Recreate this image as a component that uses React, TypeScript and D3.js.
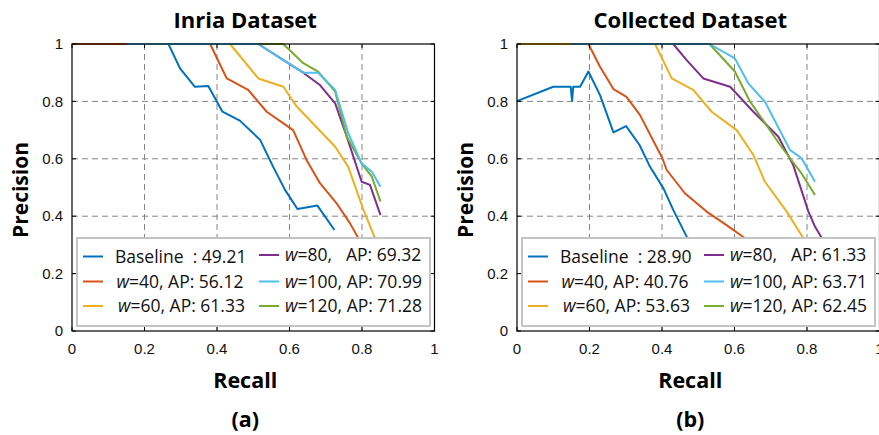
import React from 'react';
import * as d3 from 'd3';

// PR curves for two datasets, values as [recall, precision]
const ticks = [0, 0.2, 0.4, 0.6, 0.8, 1];
const tickLabels = ['0', '0.2', '0.4', '0.6', '0.8', '1'];
const seriesNames = ['Baseline', '40', '60', '80', '100', '120'];
const colors = ['#0072BD', '#D95319', '#EDB120', '#7E2F8E', '#4DBEEE', '#77AC30'];
// draw order: light blue is on top of green
const drawOrder = [0, 1, 2, 3, 5, 4];

const inriaBaseline = [[0.15, 1], [0.266, 1], [0.298, 0.915], [0.339, 0.851], [0.376, 0.854], [0.415, 0.764], [0.463, 0.733], [0.519, 0.666], [0.555, 0.572], [0.588, 0.491], [0.622, 0.425], [0.677, 0.437], [0.724, 0.352]];
const inriaW40 = [[0, 1], [0.381, 1], [0.427, 0.88], [0.486, 0.84], [0.537, 0.764], [0.61, 0.7], [0.647, 0.596], [0.684, 0.515], [0.73, 0.445], [0.767, 0.375], [0.79, 0.323], [0.82, 0.24]];
const inriaW60 = [[0.15, 1], [0.436, 1], [0.514, 0.88], [0.583, 0.851], [0.62, 0.782], [0.726, 0.642], [0.762, 0.572], [0.804, 0.422], [0.836, 0.323], [0.86, 0.26]];
const inriaW80 = [[0.15, 1], [0.514, 1], [0.592, 0.937], [0.638, 0.9], [0.684, 0.857], [0.726, 0.793], [0.758, 0.677], [0.799, 0.52], [0.822, 0.509], [0.851, 0.404]];
const inriaW100 = [[0.151, 1], [0.514, 1], [0.592, 0.937], [0.638, 0.9], [0.679, 0.9], [0.726, 0.84], [0.762, 0.689], [0.799, 0.584], [0.827, 0.555], [0.851, 0.503]];
const inriaW120 = [[0.51, 1], [0.583, 1], [0.638, 0.933], [0.679, 0.904], [0.726, 0.834], [0.758, 0.677], [0.799, 0.584], [0.827, 0.538], [0.851, 0.451]];
const inriaAP = ['49.21', '56.12', '61.33', '69.32', '70.99', '71.28'];

const collBaseline = [[0, 0.801], [0.1, 0.851], [0.148, 0.851], [0.152, 0.801], [0.155, 0.851], [0.174, 0.851], [0.197, 0.904], [0.229, 0.822], [0.266, 0.692], [0.301, 0.714], [0.338, 0.648], [0.367, 0.572], [0.404, 0.497], [0.431, 0.422], [0.468, 0.329], [0.5, 0.24]];
const collW40 = [[0.15, 1], [0.197, 1], [0.229, 0.921], [0.266, 0.843], [0.302, 0.816], [0.339, 0.753], [0.401, 0.602], [0.413, 0.561], [0.463, 0.48], [0.523, 0.416], [0.578, 0.369], [0.629, 0.323], [0.68, 0.26]];
const collW60 = [[0, 1], [0.381, 1], [0.427, 0.88], [0.486, 0.84], [0.537, 0.764], [0.606, 0.7], [0.652, 0.613], [0.684, 0.52], [0.744, 0.416], [0.79, 0.323], [0.82, 0.25]];
const collW80 = [[0.15, 1], [0.431, 1], [0.468, 0.944], [0.514, 0.88], [0.588, 0.851], [0.652, 0.764], [0.721, 0.677], [0.762, 0.578], [0.804, 0.416], [0.822, 0.364], [0.841, 0.323], [0.87, 0.25]];
const collW100 = [[0.151, 1], [0.531, 1], [0.601, 0.95], [0.638, 0.863], [0.684, 0.799], [0.753, 0.631], [0.785, 0.602], [0.822, 0.52]];
const collW120 = [[0.4, 1], [0.531, 1], [0.601, 0.904], [0.643, 0.799], [0.726, 0.648], [0.753, 0.602], [0.785, 0.549], [0.822, 0.474]];
const collAP = ['28.90', '40.76', '53.63', '61.33', '63.71', '62.45'];

const W = 879;
const H = 435;
const top = 44;
const bottom = 331;
const plotW = 362.5;

const labelFont = '"Open Sans", Lato, sans-serif';
const tickFont = '"Liberation Sans", Arial, sans-serif';

function Panel({ x0, title, tag, series, ap }: any) {
  const x = d3.scaleLinear().domain([0, 1]).range([x0, x0 + plotW]);
  const y = d3.scaleLinear().domain([0, 1]).range([bottom, top]);
  const line = d3
    .line<number[]>()
    .x((d) => x(d[0]))
    .y((d) => y(d[1]));
  const clipId = 'clip' + tag.replace(/\W/g, '');
  const cx = x(0.5) - 8;

  // legend box
  const lx = x0 + 5;
  const lw = plotW - 9.5;
  const ly = 238;
  const lh = bottom - 5 - ly;
  const rows = [256.5, 281.5, 306];
  const colX = [lx, lx + 176];

  return (
    <g>
      <defs>
        <clipPath id={clipId}>
          <rect x={x(0) - 2} y={top - 2} width={plotW + 4} height={bottom - top + 4} />
        </clipPath>
      </defs>
      {/* grid */}
      {ticks.slice(1, -1).map((t) => (
        <g key={'g' + t}>
          <line x1={x(t)} x2={x(t)} y1={top} y2={bottom} stroke="#858585" strokeDasharray="6,4" strokeWidth={1} />
          <line x1={x(0)} x2={x(1)} y1={y(t)} y2={y(t)} stroke="#858585" strokeDasharray="6,4" strokeWidth={1} />
        </g>
      ))}
      {/* curves */}
      <g clipPath={`url(#${clipId})`}>
        {drawOrder.map((i) => (
          <path key={i} d={line(series[i]) || ''} fill="none" stroke={colors[i]} strokeWidth={2} strokeLinejoin="round" />
        ))}
      </g>
      {/* axes box and ticks */}
      <rect x={x(0)} y={top} width={plotW} height={bottom - top} fill="none" stroke="#000" strokeWidth={1.2} />
      {ticks.map((t, i) => (
        <g key={'t' + t}>
          <line x1={x(t)} x2={x(t)} y1={bottom} y2={bottom - 4} stroke="#000" />
          <line x1={x(t)} x2={x(t)} y1={top} y2={top + 4} stroke="#000" />
          <line x1={x(0)} x2={x(0) + 4} y1={y(t)} y2={y(t)} stroke="#000" />
          <line x1={x(1)} x2={x(1) - 4} y1={y(t)} y2={y(t)} stroke="#000" />
          <text x={x(t)} y={bottom + 23} textAnchor="middle" fontFamily={tickFont} fontSize={15} fill="#111">
            {tickLabels[i]}
          </text>
          <text x={x(0) - 9} y={y(t)} dy="0.35em" textAnchor="end" fontFamily={tickFont} fontSize={15} fill="#111">
            {tickLabels[i]}
          </text>
        </g>
      ))}
      {/* legend */}
      <rect x={lx} y={ly} width={lw} height={lh} fill="#fff" stroke="#c4c4c4" strokeWidth={2} />
      {seriesNames.map((name, i) => {
        const col = i < 3 ? 0 : 1;
        const row = i % 3;
        const bx = colX[col];
        const ry = rows[row] - (i === 3 ? 1.5 : 0);
        const tx = col === 0 ? bx + 38 + (i === 0 ? 0 : row * 1.5) : bx + 32;
        return (
          <g key={'l' + i}>
            <line x1={bx + 6} x2={bx + 26} y1={ry} y2={ry} stroke={colors[i]} strokeWidth={2} />
            <text x={tx} y={ry} dy="0.35em" fontFamily={labelFont} fontSize={17.5} fill="#111" style={{ whiteSpace: 'pre' }}>
              {i === 0 ? (
                `Baseline  : ${ap[i]}`
              ) : (
                <>
                  <tspan fontStyle="italic">w</tspan>
                  {i === 3 ? (
                    <>
                      {`=${name},`}
                      <tspan x={tx + 61}>{`AP: ${ap[i]}`}</tspan>
                    </>
                  ) : (
                    `=${name}, AP: ${ap[i]}`
                  )}
                </>
              )}
            </text>
          </g>
        );
      })}
      {/* labels */}
      <text x={cx} y={28} textAnchor="middle" fontFamily={labelFont} fontWeight="bold" fontSize={22} fill="#000">
        {title}
      </text>
      <text x={cx} y={388} textAnchor="middle" fontFamily={labelFont} fontWeight="bold" fontSize={21.5} fill="#000">
        Recall
      </text>
      <text x={cx} y={427} textAnchor="middle" fontFamily={labelFont} fontWeight="bold" fontSize={21.5} fill="#000">
        {tag}
      </text>
      <text transform={`translate(${x0 - 44},${190}) rotate(-90)`} textAnchor="middle" fontFamily={labelFont} fontWeight="bold" fontSize={21} fill="#000">
        Precision
      </text>
    </g>
  );
}

export default function App() {
  const inria = [inriaBaseline, inriaW40, inriaW60, inriaW80, inriaW100, inriaW120];
  const coll = [collBaseline, collW40, collW60, collW80, collW100, collW120];
  return (
    <svg width={W} height={H} style={{ position: 'absolute', left: 0, top: 0, background: '#fff' }}>
      <rect width={W} height={H} fill="#fff" />
      <Panel x0={72} title="Inria Dataset" tag="(a)" series={inria} ap={inriaAP} />
      <Panel x0={517} title="Collected Dataset" tag="(b)" series={coll} ap={collAP} />
    </svg>
  );
}
